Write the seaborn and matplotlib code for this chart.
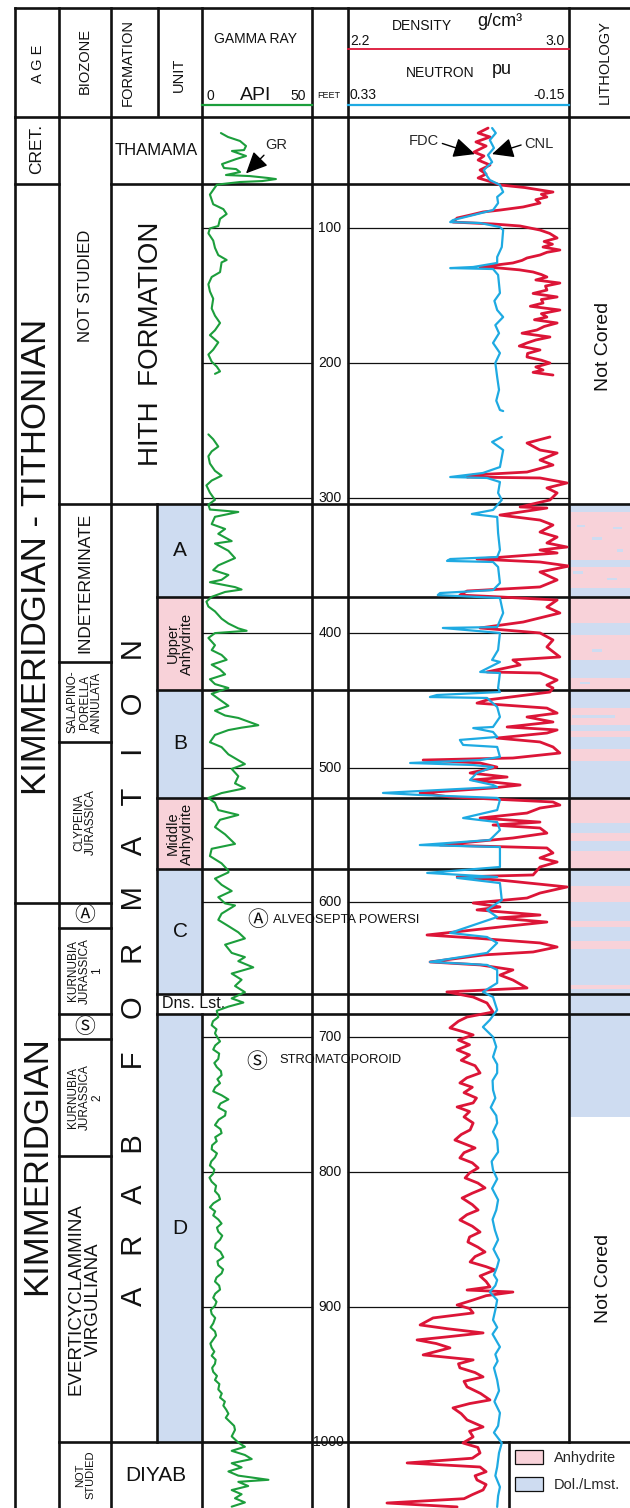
import numpy as np
import pandas as pd
import matplotlib
matplotlib.use("Agg")
import matplotlib.pyplot as plt
from matplotlib.patches import Rectangle, Patch
import seaborn as sns

nan = np.nan

# ======================= DATA =======================
DEPTH_TICKS = [100, 200, 300, 400, 500, 600, 700, 800, 900, 1000]

AGE_LABELS = ["CRET.", "KIMMERIDGIAN - TITHONIAN", "KIMMERIDGIAN"]
AGE_TOPS = [17.7, 67.0, 600.4]
AGE_BASES = [67.0, 600.4, 1048.9]

BIOZONE_LABELS = ["NOT STUDIED", "INDETERMINATE", "SALAPINO-\nPORELLA\nANNULATA",
                  "CLYPEINA\nJURASSICA", "\u24b6", "KURNUBIA\nJURASSICA\n1", "\u24c8",
                  "KURNUBIA\nJURASSICA\n2", "EVERTICYCLAMMINA\nVIRGULIANA", "NOT\nSTUDIED"]
BIOZONE_TOPS = [17.7, 304.6, 421.7, 481.0, 600.4, 618.9, 682.7, 701.2, 788.0, 1000.0]
BIOZONE_BASES = [304.6, 421.7, 481.0, 600.4, 618.9, 682.7, 701.2, 788.0, 1000.0, 1048.9]

FORMATION_LABELS = ["THAMAMA", "HITH  FORMATION",
                    "A    R    A    B        F    O    R    M    A    T    I    O    N", "DIYAB"]
FORMATION_TOPS = [17.7, 67.5, 304.6, 1000.0]
FORMATION_BASES = [67.5, 304.6, 1000.0, 1048.9]

UNIT_LABELS = ["A", "Upper\nAnhydrite", "B", "Middle\nAnhydrite", "C", "Dns. Lst.", "D"]
UNIT_TOPS = [304.6, 373.5, 442.5, 522.5, 575.2, 667.8, 682.7]
UNIT_BASES = [373.5, 442.5, 522.5, 575.2, 667.8, 682.7, 1000.0]
UNIT_LITH = ["Dol./Lmst.", "Anhydrite", "Dol./Lmst.", "Anhydrite", "Dol./Lmst.", "", "Dol./Lmst."]

LITH_TOPS = [304.6, 310.5, 346.1, 351.3, 366.9, 373.5, 392.8, 401.7, 420.2, 433.6, 442.5,
             455.8, 468.4, 472.9, 477.3, 486.2, 495.1, 522.5, 541.1, 548.5, 554.4, 561.8,
             575.9, 587.8, 599.6, 613.7, 618.2, 628.6, 634.5, 661.2, 664.1]
LITH_BASES = [310.5, 346.1, 351.3, 366.9, 373.5, 392.8, 401.7, 420.2, 433.6, 442.5, 455.8,
              468.4, 472.9, 477.3, 486.2, 495.1, 522.5, 541.1, 548.5, 554.4, 561.8, 575.9,
              587.8, 599.6, 613.7, 618.2, 628.6, 634.5, 661.2, 664.1, 759.0]
LITH_TYPES = ["Dol./Lmst.", "Anhydrite"] * 15 + ["Dol./Lmst."]
LITH_STREAK_DEPTHS = [320.9, 322.4, 330.5, 339.4, 355.7, 360.2, 413.5, 437.3, 462.0]
NOT_CORED_DEPTHS = [187.5, 879.0]

GR_DEPTH = [29.6, 32.5, 35.5, 39.2, 42.2, 42.9, 46.6, 48.9, 52.6, 55.5, 56.3, 58.5, 60.7, 61.5,
            62.9, 63.7, 65.2, 65.9, 67.4,
            68.0, 75.2, 82.4, 84.2, 86.0, 89.6, 93.2, 98.5, 100.3, 103.9, 109.3, 114.7, 120.1,
            123.7, 125.5, 132.7, 136.3, 141.7, 147.0, 152.4, 159.6, 165.0, 170.4, 175.8, 179.4,
            184.8, 190.2, 193.8, 199.1, 202.7, 206.3, 208.1, nan,
            253.0, 256.6, 262.0, 265.6, 269.2, 274.6, 280.0, 283.6, 287.2, 290.8, 296.2, 301.5,
            305.1, 308.7, 310.5, 314.1, 319.5, 323.1, 326.7, 332.1, 333.9, 339.3, 344.7, 350.1,
            353.6, 357.2, 360.8, 362.6, 366.2, 368.0, 369.8, 373.4,
            377.0, 380.6, 384.2, 389.6, 393.2, 396.8, 398.6, 400.3, 403.9, 409.3, 412.9, 416.5,
            420.1, 423.7, 427.3, 430.9, 434.5, 438.1, 441.0,
            445.3, 448.9, 454.2, 457.8, 461.4, 463.2, 468.6, 470.4, 472.2, 475.8, 481.2, 484.8,
            490.2, 497.4, 501.0, 506.4, 511.7, 515.3, 518.9,
            522.5, 526.1, 531.5, 535.1, 538.7, 544.1, 549.5, 556.6, 560.2, 565.6, 571.0, 576.4,
            577.7, 582.3, 586.9, 591.5, 596.1, 600.7, 602.2, 608.3, 612.9, 617.5, 622.1, 626.7,
            631.3, 637.4, 640.5, 643.5, 648.1, 652.7, 657.3, 661.9, 666.5,
            671.1, 674.2, 677.2, 680.3,
            685, 688, 691, 694, 697, 700, 703, 706, 709, 712, 716, 719, 722, 725, 728, 731, 734,
            737, 740, 743, 746, 749, 752, 755, 758, 761, 765, 768, 771, 774, 777, 780, 783, 786,
            789, 792, 795, 798, 801, 804, 807, 810, 814, 817, 820, 823, 826, 829, 832, 835, 838,
            841, 844, 847, 850, 853, 856, 859, 863, 866, 869, 872, 875, 878, 881, 884, 887, 890,
            893, 896, 899, 902, 905, 908, 912, 915, 918, 921, 924, 927, 930, 933, 936, 939, 942,
            945, 948, 951, 954, 957, 961, 964, 967, 970, 973, 976, 979, 982, 985, 988, 991,
            995.8, 1000.4, 1003.5, 1006.5, 1009.6, 1012.6, 1015.7, 1018.8, 1021.8, 1024.9,
            1028.0, 1029.5, 1032.6, 1035.6, 1038.7, 1041.7, 1044.8, 1047.9]
GR_API = [8.6, 11.8, 17.3, 20.0, 19.1, 13.6, 20.0, 15.5, 9.1, 10.0, 15.5, 17.3, 10.9, 21.8,
          30.0, 33.6, 27.3, 17.3, 9.1,
          6.7, 3.6, 5.1, 7.4, 9.7, 11.2, 8.2, 7.4, 3.6, 2.9, 5.1, 5.9, 7.4,
          11.2, 8.9, 8.2, 4.4, 2.9, 3.6, 5.1, 4.4, 5.9, 8.2, 5.9, 3.6,
          7.4, 5.1, 2.9, 4.4, 6.7, 8.2, 5.9, nan,
          2.9, 5.1, 7.4, 4.4, 2.9, 3.6, 5.9, 8.9, 4.4, 2.0, 3.6, 5.9,
          2.9, 3.6, 16.5, 5.9, 4.4, 10.5, 7.4, 13.5, 5.9, 12.0, 15.0, 7.4,
          5.1, 12.0, 8.9, 3.6, 15.0, 18.0, 10.5, 4.4,
          2.0, 2.9, 5.9, 8.9, 12.0, 16.5, 20.3, 5.9, 2.9, 5.9, 4.4, 8.9,
          11.2, 4.4, 8.2, 10.5, 3.6, 5.9, 12.0,
          4.4, 7.4, 12.0, 5.9, 10.5, 16.5, 25.6, 18.0, 12.0, 5.9, 3.6, 8.9,
          12.0, 19.5, 13.5, 16.5, 15.0, 19.5, 8.9,
          2.9, 5.9, 7.4, 16.5, 8.2, 5.9, 10.5, 15.0, 4.4, 3.6, 8.9, 12.0,
          12.0, 5.9, 8.9, 13.5, 7.4, 10.5, 15.0, 8.9, 7.4, 12.0, 16.5, 19.5,
          10.5, 13.5, 19.5, 16.5, 23.3, 13.5, 18.0, 15.0, 19.5,
          13.5, 18.8, 12.0, 6.7,
          7.4, 5.0, 4.4, 6.6, 5.9, 7.0, 8.2, 6.0, 5.1, 7.8, 7.4, 5.6, 6.7, 8.6, 8.9, 7.0, 8.2,
          6.0, 5.1, 9.0, 12.0, 8.4, 7.4, 10.8, 10.5, 7.6, 5.9, 8.4, 8.9, 6.0, 6.7, 4.6, 4.4, 6.8,
          5.9, 4.2, 3.6, 5.6, 5.1, 3.4, 4.4, 6.4, 5.9, 7.6, 8.2, 5.2, 3.6, 6.0, 5.1, 7.4, 8.9,
          6.8, 7.4, 9.2, 8.2, 6.2, 5.9, 8.4, 9.7, 7.0, 7.4, 9.6, 8.9, 6.6, 5.9, 7.8, 8.2, 6.0,
          5.1, 6.6, 5.9, 4.0, 4.4, 6.0, 5.1, 3.9, 5.9, 6.4, 5.1, 3.8, 4.4, 5.6, 4.4, 6.2, 5.9,
          4.6, 5.1, 6.8, 5.9, 7.9, 7.4, 9.0, 8.2, 10.4, 9.7, 11.0, 12.0, 10.8, 12.7, 14.6, 15.0,
          13.5, 16.5, 19.5, 13.5, 19.5, 22.6, 13.5, 18.0, 12.0, 16.5,
          30.2, 16.5, 21.0, 13.5, 18.0, 15.0, 19.5, 13.5]

RHOB_DEPTH = [25.9, 29.6, 32.5, 36.2, 39.2, 43.7, 46.6, 49.6, 53.3, 57.0, 60.0, 62.9, 65.9,
              68.1, 70.0, 71.8, 73.3, 75.0, 77.0, 79.0, 81.5, 84.4, 86.7, 88.1, 90.5, 92.6, 95.6,
              96.3, 97.0, 98.5, 101.5, 104.0, 107.4, 110.0, 112.0, 114.1, 116.3, 118.0, 120.0,
              122.2, 124.0, 125.9, 128.9, 129.7, 131.0, 132.6, 134.5, 136.3, 138.5, 140.8, 143.0,
              146.0, 148.5, 151.1, 153.0, 155.6, 158.0, 160.8, 163.5, 166.0, 168.0, 170.4, 173.0,
              175.6, 178.0, 180.8, 183.0, 185.2, 187.5, 190.4, 193.0, 195.6, 198.0, 200.1, 203.0,
              205.3, 207.0, 209.0, nan,
              254.9, 259.4, 264.6, 266.8, 272.0, 275.7, 280.9, 283.1, 284.6, 285.3, 289.0, 292.7,
              296.4, 301.6, 306.8, 307.6, 312.8, 316.5, 320.2, 325.4, 329.1, 333.5, 336.5, 338.7,
              340.9, 345.4, 347.6, 350.6, 355.0, 360.9, 366.1, 369.1, 372.1, 373.5, 375.8, 381.0,
              385.4, 392.1, 396.5, 400.2, 405.4, 410.6, 418.0, 420.2, 423.9, 429.1, 429.9, 435.1,
              438.8, 441.0, 444.0, 449.9, 452.2, 455.9, 459.6, 462.5, 466.2, 469.9, 472.1, 474.4,
              478.1, 481.0, 484.7, 489.2, 492.9, 494.4, 496.6, 499.6, 504.0, 507.0, 509.2, 512.9,
              515.1, 518.8, 521.8, 525.5, 527.8, 530.0, 533.7, 537.4, 540.4, 542.6, 544.8, 548.6,
              552.2, 557.4, 559.6, 563.3, 567.0, 570.0, 573.7, 579.6, 581.1, 583.4, 588.5, 593.0,
              596.7, 600.4, 603.3, 605.5, 609.3, 611.5, 614.5, 618.2, 624.1, 626.3, 630.0, 633.0,
              636.7, 638.9, 644.1, 646.3, 650.0, 653.8, 657.5, 663.4, 666.3, 670.1, 674.5, 681.2,
              684.9, 688.0, 693.0, 696.0, 698.2, 702.0, 705.5, 709.3, 713.0, 717.0, 721.0, 726.4,
              730.0, 733.8, 737.0, 741.0, 745.0, 748.6, 751.6, 755.0, 759.0, 763.5, 768.6, 772.0,
              776.1, 782.0, 785.5, 789.4, 793.0, 796.8, 800.5, 804.2, 808.0, 811.6, 815.5, 819.1,
              824.0, 828.0, 831.5, 835.4, 840.0, 844.3, 848.0, 851.7, 855.5, 859.1, 862.5, 866.5,
              870.0, 872.4, 876.9, 881.0, 885.0, 887.3, 888.8, 891.5, 894.7, 898.4, 901.0, 904.3,
              908.0, 913.2, 916.0, 919.1, 922.0, 924.3, 927.0, 930.2, 935.4, 939.1, 942.0, 945.0,
              948.5, 951.7, 955.0, 959.1, 964.0, 968.8, 971.5, 974.7, 979.0, 983.6, 988.8, 992.0,
              996.2, 1000.7, 1004.0, 1008.1, 1012.0, 1015.5, 1018.5, 1022.0, 1025.0, 1028.1,
              1031.5, 1035.5, 1039.0, 1042.0, 1045.2, 1048.1]
RHOB = [2.707, 2.671, 2.714, 2.663, 2.700, 2.656, 2.692, 2.671, 2.714, 2.678, 2.700, 2.671, 2.721,
        2.750, 2.840, 2.895, 2.942, 2.900, 2.920, 2.880, 2.895, 2.834, 2.750, 2.689, 2.640, 2.595,
        2.580, 2.653, 2.725, 2.823, 2.895, 2.930, 2.957, 2.910, 2.940, 2.906, 2.967, 2.920, 2.895,
        2.848, 2.830, 2.797, 2.678, 2.750, 2.820, 2.870, 2.900, 2.920, 2.880, 2.967, 2.915,
        2.920, 2.870, 2.957, 2.900, 2.906, 2.860, 2.967, 2.900, 2.920, 2.875, 2.957, 2.910,
        2.884, 2.830, 2.931, 2.880, 2.848, 2.820, 2.895, 2.850, 2.848, 2.900, 2.931, 2.880,
        2.906, 2.870, 2.942, nan,
        2.931, 2.848, 2.895, 2.957, 2.895, 2.942, 2.848, 2.653, 2.631, 2.895, 2.993, 2.920,
        2.957, 2.931, 2.823, 2.920, 2.750, 2.895, 2.942, 2.895, 2.957, 2.920, 2.993, 2.895,
        2.957, 2.667, 2.895, 3.000, 2.895, 2.957, 2.895, 2.631, 2.605, 2.750, 2.957, 2.920,
        2.967, 2.834, 2.678, 2.895, 2.942, 2.920, 2.967, 2.797, 2.823, 2.703, 2.895, 2.957,
        2.920, 2.942, 2.931, 2.703, 2.667, 2.920, 2.957, 2.848, 2.942, 2.776, 2.957, 2.920,
        2.739, 2.895, 2.942, 2.967, 2.797, 2.472, 2.678, 2.739, 2.642, 2.776, 2.653, 2.823,
        2.725, 2.461, 2.569, 2.942, 2.967, 2.895, 2.848, 2.678, 2.895, 2.725, 2.895, 2.920,
        2.797, 2.533, 2.920, 2.942, 2.895, 2.957, 2.895, 2.870, 2.595, 2.750, 2.993, 2.895,
        2.848, 2.653, 2.750, 2.667, 2.895, 2.739, 2.920, 2.750, 2.486, 2.653, 2.895, 2.957,
        2.870, 2.689, 2.497, 2.678, 2.797, 2.750, 2.797, 2.848, 2.558, 2.653, 2.703, 2.725,
        2.631, 2.600, 2.569, 2.620, 2.653, 2.600, 2.640, 2.595, 2.640, 2.610, 2.660, 2.678,
        2.630, 2.605, 2.650, 2.620, 2.665, 2.653, 2.595, 2.640, 2.620, 2.653, 2.642, 2.610,
        2.587, 2.660, 2.620, 2.605, 2.650, 2.671, 2.640, 2.624, 2.670, 2.696, 2.650, 2.613,
        2.650, 2.671, 2.630, 2.605, 2.650, 2.678, 2.640, 2.634, 2.670, 2.696, 2.660, 2.642,
        2.700, 2.732, 2.678, 2.700, 2.714, 2.631, 2.797, 2.700, 2.653, 2.595, 2.640, 2.653,
        2.508, 2.461, 2.560, 2.689, 2.560, 2.450, 2.520, 2.569, 2.472, 2.653, 2.600, 2.605,
        2.660, 2.689, 2.620, 2.631, 2.680, 2.714, 2.640, 2.580, 2.610, 2.631, 2.689, 2.640,
        2.653, 2.616, 2.670, 2.678, 2.650, 2.414, 2.678, 2.700, 2.660, 2.667,
        2.700, 2.689, 2.650, 2.620, 2.341, 2.595]

NPHI_DEPTH = [25.9, 29.6, 34.8, 40.7, 45.9, 51.1, 57.0, 61.5, 64.4, 68.1, 73.3, 77.0, 81.5,
              86.7, 90.4, 94.1, 95.6, 96.3, 99.3, 101.5, 114.1, 121.5, 125.9, 128.9, 129.7,
              130.4, 134.8, 148.2, 154.0, 160.8, 166.0, 172.0, 178.0, 185.2, 192.7, 200.0,
              210.5, 220.0, 228.0, 234.9, 235.7, nan,
              254.9, 258.6, 264.6, 277.2, 281.6, 284.6, 285.3, 288.3, 296.4, 301.6, 309.0, 312.0,
              314.2, 326.1, 338.7, 343.9, 345.4, 346.8, 347.6, 351.3, 363.2, 368.4, 370.6, 372.1,
              374.3, 385.4, 395.8, 396.5, 400.2, 412.8, 420.2, 421.7, 429.1, 429.9, 441.0, 444.0,
              446.2, 447.7, 448.4, 455.1, 462.5, 469.9, 470.7, 473.6, 477.3, 479.5, 483.2, 484.7,
              492.1, 494.4, 496.6, 498.1, 499.6, 504.0, 509.2, 512.9, 514.4, 518.8, 520.3, 522.5,
              524.0, 531.5, 537.4, 540.4, 546.3, 553.7, 557.4, 558.9, 573.7, 578.1, 581.1, 581.8,
              585.6, 598.2, 605.5, 610.8, 622.6, 625.6, 630.0, 637.4, 644.1, 646.3, 650.0, 659.7,
              666.3, 670.1, 679.7, 687.1, 692.3, 699.7, 707.0, 714.5, 720.0, 726.4, 732.0, 739.0,
              745.0, 752.0, 758.0, 763.5, 770.0, 776.1, 785.0, 792.0, 798.3, 805.0, 812.0, 820.5,
              828.0, 835.0, 842.8, 850.0, 857.0, 865.0, 870.0, 876.1, 879.9, 884.0, 888.8, 894.7,
              902.0, 909.5, 915.0, 920.0, 929.5, 935.0, 940.0, 945.0, 954.0, 962.0, 970.0, 978.4,
              988.0, 993.0, 1000.7, 1008.0, 1018.5, 1025.0, 1033.3, 1040.0, 1048.1]
NPHI = [0.017, 0.009, 0.022, 0.013, 0.026, 0.017, 0.035, 0.028, 0.022, 0.000, -0.007, 0.006,
        0.004, 0.015, 0.058, 0.102, 0.108, 0.043, 0.000, -0.007, -0.004, 0.006, 0.006, 0.058,
        0.108, 0.015, 0.004, 0.000, 0.012, 0.006, -0.007, 0.010, 0.002, 0.015, 0.000, 0.010,
        0.006, 0.002, 0.008, 0.000, -0.007, nan,
        -0.004, 0.017, -0.007, 0.000, 0.037, 0.108, 0.028, 0.000, 0.004, -0.004, 0.015, 0.061,
        0.006, 0.004, 0.000, 0.006, 0.108, 0.115, 0.015, 0.004, 0.000, 0.015, 0.130, 0.135,
        0.000, -0.007, 0.006, 0.124, 0.000, 0.004, 0.017, 0.000, 0.043, 0.000, 0.004, 0.000,
        0.137, 0.152, 0.028, 0.006, 0.000, 0.015, 0.058, 0.015, 0.006, 0.087, 0.080, 0.006,
        0.000, 0.043, 0.195, 0.058, 0.015, 0.050, 0.065, 0.015, 0.006, 0.254, 0.174, 0.006,
        0.000, 0.006, 0.080, 0.006, 0.000, 0.022, 0.174, 0.000, 0.000, 0.158, 0.006, 0.093,
        0.000, -0.004, 0.028, 0.006, 0.108, 0.028, 0.006, 0.028, 0.152, 0.028, 0.006, 0.006,
        0.037, 0.015, 0.006, 0.022, 0.037, 0.015, 0.008, 0.015, 0.006, 0.006, 0.016, 0.015,
        0.010, 0.020, 0.008, 0.006, 0.015, 0.006, 0.004, 0.018, 0.015, 0.006, 0.017, 0.004,
        0.008, 0.016, 0.011, 0.004, 0.014, 0.002, 0.006, 0.013, 0.006, 0.010, 0.022, 0.006,
        0.010, 0.015, 0.006, 0.016, 0.000, 0.010, 0.005, 0.013, 0.006, 0.002, 0.012, 0.000,
        0.004, 0.013, -0.004, 0.002, 0.006, 0.010, 0.000, 0.004, 0.006]

# ======================= STYLE / LAYOUT =======================
sns.set_theme(style="white")
plt.rcParams["font.family"] = ["Liberation Sans", "DejaVu Sans"]
CIRCLED_FAMILY = ["Noto Sans CJK JP", "Noto Sans CJK SC", "DejaVu Sans"]

FIG_W, FIG_H, HEAD_H = 630, 1508, 117
D_TOP, D_BOT = 17.7, 1048.9
K = "#111111"
GREEN, RED, BLUE = "#1c9e3c", "#dc1537", "#1eaae2"
FILL = {"Anhydrite": "#f8d2d9", "Dol./Lmst.": "#cedcf1"}
LW, GLW = 1.9, 0.9
X_L, X_AGE, X_BIO, X_UNIT, X_GR, X_FT, X_DEN, X_LITH, X_R = 14.5, 59, 111, 157, 202, 312, 348, 569, 630
X_LEG = 509

fig = plt.figure(figsize=(FIG_W / 100, FIG_H / 100), dpi=100)
body_h = (FIG_H - HEAD_H) / FIG_H
axb = fig.add_axes([0, 0, 1, body_h])
axb.set_xlim(0, FIG_W)
axb.set_ylim(D_BOT, D_TOP)
axb.axis("off")
axh = fig.add_axes([0, body_h, 1, HEAD_H / FIG_H])
axh.set_xlim(0, FIG_W)
axh.set_ylim(HEAD_H, 0)
axh.axis("off")


def vl(ax, x, y0, y1, lw=LW, color=K):
    ax.plot([x, x], [y0, y1], color=color, lw=lw, solid_capstyle="projecting", clip_on=False, zorder=3)


def hl(ax, y, x0, x1, lw=LW, color=K):
    ax.plot([x0, x1], [y, y], color=color, lw=lw, solid_capstyle="projecting", clip_on=False, zorder=3)


# ---------------- header ----------------
for x in [X_L, X_AGE, X_BIO, X_GR, X_FT, X_DEN, X_LITH]:
    vl(axh, x, 8, HEAD_H)
vl(axh, 158, 8, 115)
hl(axh, 8, X_L, X_R)
hl(axh, HEAD_H, X_L, X_R)
hkw = dict(ha="center", va="center", color=K)
axh.text(38, 64, "A G E", rotation=90, fontsize=10.5, **hkw)
axh.text(85, 61, "BIOZONE", rotation=90, fontsize=10.5, **hkw)
axh.text(128, 62, "FORMATION", rotation=90, fontsize=10.5, **hkw)
axh.text(179, 75, "UNIT", rotation=90, fontsize=10.5, **hkw)
axh.text(605, 62, "LITHOLOGY", rotation=90, fontsize=10.5, **hkw)
axh.text(256, 39, "GAMMA RAY", fontsize=10, **hkw)
axh.text(210, 96, "0", fontsize=10, **hkw)
axh.text(256, 95, "API", fontsize=14, **hkw)
axh.text(298, 96, "50", fontsize=10, **hkw)
axh.text(329, 96, "FEET", fontsize=6.5, **hkw)
axh.text(422, 26, "DENSITY", fontsize=10, **hkw)
axh.text(500, 21, "g/cm\u00b3", fontsize=13, **hkw)
axh.text(350, 41, "2.2", fontsize=10, ha="left", va="center", color=K)
axh.text(565, 41, "3.0", fontsize=10, ha="right", va="center", color=K)
axh.text(440, 73, "NEUTRON", fontsize=10, **hkw)
axh.text(502, 69, "pu", fontsize=13, **hkw)
axh.text(350, 95, "0.33", fontsize=10, ha="left", va="center", color=K)
axh.text(565, 95, "-0.15", fontsize=10, ha="right", va="center", color=K)
hl(axh, 49.3, X_DEN, X_LITH, lw=1.3, color=RED)
hl(axh, 105, X_DEN, X_LITH, lw=1.6, color=BLUE)
hl(axh, 105, X_GR, X_FT, lw=1.6, color=GREEN)

# ---------------- fills ----------------
for t, b, lith in zip(UNIT_TOPS, UNIT_BASES, UNIT_LITH):
    if lith:
        axb.add_patch(Rectangle((X_UNIT, t), X_GR - X_UNIT, b - t, fc=FILL[lith], ec="none", zorder=1))
for t, b, lith in zip(LITH_TOPS, LITH_BASES, LITH_TYPES):
    axb.add_patch(Rectangle((X_LITH, t), X_R - X_LITH, b - t, fc=FILL[lith], ec="none", zorder=1))
STREAK_X = [(577, 585), (613, 622), (592, 602), (617, 623), (573, 583), (607, 617), (592, 602), (580, 590), (572, 615)]
for d, (x0, x1) in zip(LITH_STREAK_DEPTHS, STREAK_X):
    axb.add_patch(Rectangle((x0, d - 1.1), x1 - x0, 2.2, fc=FILL["Dol./Lmst."], ec="none", zorder=1.5))

# ---------------- body frame ----------------
vl(axb, X_L, D_TOP, D_BOT)
vl(axb, X_AGE, D_TOP, D_BOT)
vl(axb, X_BIO, D_TOP, D_BOT)
vl(axb, X_UNIT, FORMATION_TOPS[2], FORMATION_BASES[2])
vl(axb, X_GR, D_TOP, UNIT_TOPS[5])
vl(axb, X_GR, UNIT_BASES[5], D_BOT)
vl(axb, X_FT, D_TOP, D_BOT)
vl(axb, X_DEN, D_TOP, D_BOT)
vl(axb, X_LITH, D_TOP, FORMATION_TOPS[3])
vl(axb, X_LEG, FORMATION_TOPS[3], D_BOT)

for d in AGE_BASES[:-1]:
    hl(axb, d, X_L, X_AGE)
for d in BIOZONE_BASES[:-1]:
    hl(axb, d, X_AGE, X_BIO)
for d in FORMATION_BASES[:-1]:
    hl(axb, d, X_BIO, X_R)
for d in UNIT_BASES[:-1]:
    hl(axb, d, X_UNIT, X_R)
for d in DEPTH_TICKS:
    hl(axb, d, X_GR, X_FT, lw=GLW)
    hl(axb, d, X_DEN, X_LITH, lw=GLW)
    axb.text(330 if d < 1000 else 328, d, str(d), ha="center", va="center", fontsize=10, color=K, zorder=4)

# ---------------- body labels ----------------
AGE_Y = [41.4, 344.0, 795.0]
AGE_FS = [12.5, 25, 25]
for lab, y, fs in zip(AGE_LABELS, AGE_Y, AGE_FS):
    axb.text(37, y, lab, rotation=90, ha="center", va="center", fontsize=fs, color=K)

BIO_Y = [143.0] + [(t + b) / 2 for t, b in zip(BIOZONE_TOPS[1:], BIOZONE_BASES[1:])]
BIO_FS = [12, 12.5, 8.5, 8.5, 15, 8.5, 15, 8.5, 13.5, 8]
for lab, y, fs in zip(BIOZONE_LABELS, BIO_Y, BIO_FS):
    if len(lab) == 1:
        axb.text(85, y, lab, ha="center", va="center", fontsize=fs, color=K, family=CIRCLED_FAMILY)
    else:
        axb.text(85, y, lab, rotation=90, ha="center", va="center", fontsize=fs, color=K,
                 linespacing=1.0, multialignment="center")

FORM_X = [156, 151, 134, 156]
FORM_ROT = [0, 90, 90, 0]
FORM_FS = [12, 20, 21, 15]
for lab, t, b, x, r, fs in zip(FORMATION_LABELS, FORMATION_TOPS, FORMATION_BASES, FORM_X, FORM_ROT, FORM_FS):
    axb.text(x, (t + b) / 2, lab, rotation=r, ha="center", va="center", fontsize=fs, color=K)

for lab, t, b in zip(UNIT_LABELS, UNIT_TOPS, UNIT_BASES):
    y = (t + b) / 2
    if "\n" in lab:
        axb.text(180, y, lab, rotation=90, ha="center", va="center", fontsize=10.5, color=K,
                 linespacing=1.0, multialignment="center")
    elif lab == "Dns. Lst.":
        axb.text(162, y, lab, ha="left", va="center", fontsize=11.5, color=K, zorder=4)
    else:
        axb.text(180, y, lab, ha="center", va="center", fontsize=15, color=K)

for y in NOT_CORED_DEPTHS:
    axb.text(603, y, "Not Cored", rotation=90, ha="center", va="center", fontsize=14, color=K)

axb.text(258, 613.0, "\u24b6", ha="center", va="center", fontsize=15, color=K, family=CIRCLED_FAMILY)
axb.text(273, 612.7, "ALVEOSEPTA POWERSI", ha="left", va="center", fontsize=9.3, color=K)
axb.text(257, 718.2, "\u24c8", ha="center", va="center", fontsize=15, color=K, family=CIRCLED_FAMILY)
axb.text(279, 716.8, "STROMATOPOROID", ha="left", va="center", fontsize=9.3, color=K)

arrow = dict(arrowstyle="-|>,head_length=0.6,head_width=0.28", color="black", lw=1.0, mutation_scale=22,
             shrinkA=0, shrinkB=0)
axb.annotate("GR", xy=(246, 59.5), xytext=(276, 38.4), fontsize=10.5, ha="center", va="center",
             arrowprops=dict(arrow, relpos=(0.1, 0.0)), zorder=5)
axb.annotate("FDC", xy=(475, 45.2), xytext=(424, 35.5), fontsize=10.5, ha="center", va="center",
             arrowprops=dict(arrow, relpos=(1.0, 0.4)), zorder=5)
axb.annotate("CNL", xy=(492, 45.2), xytext=(539, 37.7), fontsize=10.5, ha="center", va="center",
             arrowprops=dict(arrow, relpos=(0.0, 0.5)), zorder=5)

handles = [Patch(facecolor=FILL["Anhydrite"], edgecolor=K, lw=0.9, label="Anhydrite"),
           Patch(facecolor=FILL["Dol./Lmst."], edgecolor=K, lw=0.9, label="Dol./Lmst.")]
axb.legend(handles=handles, loc="upper left", bbox_to_anchor=(515, 1006.0),
           bbox_transform=axb.transData, frameon=False, fontsize=10.5, handlelength=1.9,
           handleheight=1.1, handletextpad=0.75, labelspacing=0.8, borderpad=0, borderaxespad=0)


# ---------------- log curves ----------------
def seg_frame(depth, value):
    v = np.asarray(value, float)
    d = np.asarray(depth, float)
    seg = np.cumsum(np.isnan(v))
    return pd.DataFrame({"depth": d, "value": v, "seg": seg}).dropna()


ax_gr = fig.add_axes([X_GR / FIG_W, 0, (X_FT - X_GR) / FIG_W, body_h])
sns.lineplot(data=seg_frame(GR_DEPTH, GR_API), x="value", y="depth", units="seg", estimator=None,
             sort=False, color=GREEN, lw=1.5, ax=ax_gr, legend=False)
ax_gr.set_xlim(0, 50)
ax_gr.set_ylim(D_BOT, D_TOP)
ax_gr.axis("off")
ax_gr.patch.set_alpha(0)

ax_rho = fig.add_axes([X_DEN / FIG_W, 0, (X_LITH - X_DEN) / FIG_W, body_h])
sns.lineplot(data=seg_frame(RHOB_DEPTH, RHOB), x="value", y="depth", units="seg", estimator=None,
             sort=False, color=RED, lw=2.0, ax=ax_rho, legend=False)
ax_rho.set_xlim(2.2, 3.0)
ax_rho.set_ylim(D_BOT, D_TOP)
ax_rho.axis("off")
ax_rho.patch.set_alpha(0)

ax_nph = ax_rho.twiny()
sns.lineplot(data=seg_frame(NPHI_DEPTH, NPHI), x="value", y="depth", units="seg", estimator=None,
             sort=False, color=BLUE, lw=1.6, ax=ax_nph, legend=False)
ax_nph.set_xlim(0.33, -0.15)
ax_nph.set_ylim(D_BOT, D_TOP)
ax_nph.axis("off")
ax_nph.patch.set_alpha(0)

fig.savefig("out.png", dpi=100)
